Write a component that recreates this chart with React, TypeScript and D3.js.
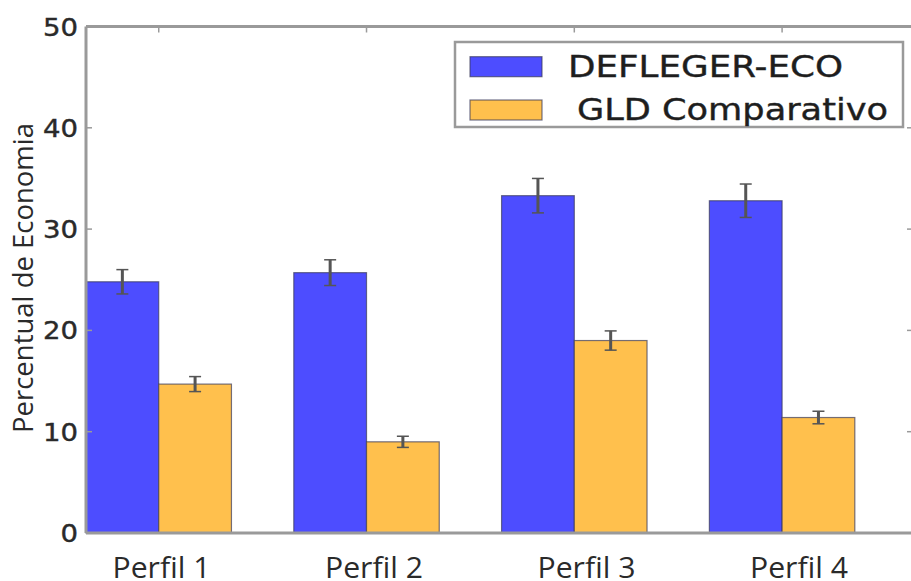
import React from "react";
import * as d3 from "d3";

const categories = ["Perfil 1", "Perfil 2", "Perfil 3", "Perfil 4"];
const seriesNames = ["DEFLEGER-ECO", "GLD Comparativo"];
const deflegerValues = [24.8, 25.7, 33.3, 32.8];
const deflegerErrors = [1.2, 1.27, 1.7, 1.65];
const gldValues = [14.7, 9.0, 19.0, 11.4];
const gldErrors = [0.74, 0.55, 0.95, 0.62];
const yTicks = [0, 10, 20, 30, 40, 50];

const W = 911;
const H = 581;
const BLUE = "#4d4dff";
const ORANGE = "#ffc04d";
const SPINE = "#9a9a9a";
const BAR_W = 0.35;

export default function App() {
  const x = d3.scaleLinear().domain([0, 3.98]).range([86, 913]);
  const y = d3.scaleLinear().domain([0, 50]).range([533, 26.5]);
  const labelX = d3.scalePoint<string>().domain(categories).range([161.5, 799]);

  const series = [
    { name: seriesNames[0], values: deflegerValues, errors: deflegerErrors, color: BLUE, offset: 0 },
    { name: seriesNames[1], values: gldValues, errors: gldErrors, color: ORANGE, offset: BAR_W },
  ];

  const x0 = x.range()[0];
  const x1 = x.range()[1];
  const y0 = y.range()[0];
  const y1 = y.range()[1];
  const tickLen = 6;

  return (
    <svg
      width={W}
      height={H}
      style={{ position: "absolute", left: 0, top: 0, background: "#fff" }}
    >
      <rect x={0} y={0} width={W} height={H} fill="#fff" />
      {/* bars */}
      {series.map((s) =>
        s.values.map((v, i) => (
          <rect
            key={s.name + i}
            x={x(i + s.offset)}
            y={y(v)}
            width={x(BAR_W) - x(0)}
            height={y(0) - y(v)}
            fill={s.color}
            stroke="#3a3a5a"
            strokeOpacity={0.7}
            strokeWidth={1.2}
          />
        ))
      )}
      {/* error bars */}
      {series.map((s) =>
        s.values.map((v, i) => {
          const cx = x(i + s.offset + BAR_W / 2);
          const top = y(v + s.errors[i]);
          const bot = y(v - s.errors[i]);
          return (
            <g key={"e" + s.name + i} stroke="#555">
              <line x1={cx} x2={cx} y1={top} y2={bot} strokeWidth={3} />
              <line x1={cx - 6} x2={cx + 6} y1={top} y2={top} strokeWidth={1.5} />
              <line x1={cx - 6} x2={cx + 6} y1={bot} y2={bot} strokeWidth={1.5} />
            </g>
          );
        })
      )}
      {/* ticks */}
      {yTicks.slice(1, -1).map((t) => (
        <g key={"t" + t} stroke={SPINE} strokeWidth={1.5}>
          <line x1={x0} x2={x0 + tickLen} y1={y(t)} y2={y(t)} />
          <line x1={x1} x2={x1 - tickLen} y1={y(t)} y2={y(t)} />
        </g>
      ))}
      {categories.map((c, i) => (
        <line
          key={"xt" + c}
          x1={x(i + BAR_W)}
          x2={x(i + BAR_W)}
          y1={y1}
          y2={y1 + tickLen}
          stroke={SPINE}
          strokeWidth={1.5}
        />
      ))}
      {/* spines */}
      <g stroke={SPINE} strokeWidth={3} fill="none">
        <line x1={x0} x2={x0} y1={y1} y2={y0} />
        <line x1={x0} x2={x1} y1={y1} y2={y1} />
        <line x1={x0} x2={x1} y1={y0} y2={y0} />
        <line x1={x1} x2={x1} y1={y1} y2={y0} />
      </g>
      {/* y tick labels */}
      {yTicks.map((t) => {
        const s = String(t);
        return (
          <text
            key={"yl" + t}
            x={78}
            y={y(t) + 9}
            textAnchor="end"
            fontFamily="DejaVu Sans"
            fontSize={25}
            fill="#2a2a2a"
            stroke="#2a2a2a"
            strokeWidth={0.4}
            textLength={s.length * 17.5}
            lengthAdjust="spacingAndGlyphs"
          >
            {s}
          </text>
        );
      })}
      {/* x labels */}
      {categories.map((c) => (
        <text
          key={"xl" + c}
          x={labelX(c)}
          y={578}
          textAnchor="middle"
          fontFamily="Open Sans"
          fontSize={29}
          fill="#2a2a2a"
          textLength={98}
          lengthAdjust="spacingAndGlyphs"
        >
          {c}
        </text>
      ))}
      {/* y axis label */}
      <text
        transform={`translate(33,278) rotate(-90)`}
        textAnchor="middle"
        fontFamily="Open Sans"
        fontSize={27}
        fill="#2a2a2a"
        textLength={310}
        lengthAdjust="spacingAndGlyphs"
      >
        Percentual de Economia
      </text>
      {/* legend */}
      <g>
        <rect x={455} y={42} width={448} height={85} fill="#fff" stroke={SPINE} strokeWidth={2.5} />
        <rect x={470} y={56.7} width={72} height={20} fill={BLUE} stroke="#3a3a5a" strokeOpacity={0.7} strokeWidth={1.2} />
        <rect x={470} y={100} width={72} height={20} fill={ORANGE} stroke="#3a3a5a" strokeOpacity={0.7} strokeWidth={1.2} />
        <text
          x={568}
          y={77}
          fontFamily="DejaVu Sans"
          fontSize={30}
          fill="#1e1e1e"
          stroke="#1e1e1e"
          strokeWidth={0.4}
          textLength={275}
          lengthAdjust="spacingAndGlyphs"
        >
          {seriesNames[0]}
        </text>
        <text
          x={577}
          y={120}
          fontFamily="DejaVu Sans"
          fontSize={30}
          fill="#1e1e1e"
          stroke="#1e1e1e"
          strokeWidth={0.4}
          textLength={311}
          lengthAdjust="spacingAndGlyphs"
        >
          {seriesNames[1]}
        </text>
      </g>
    </svg>
  );
}
